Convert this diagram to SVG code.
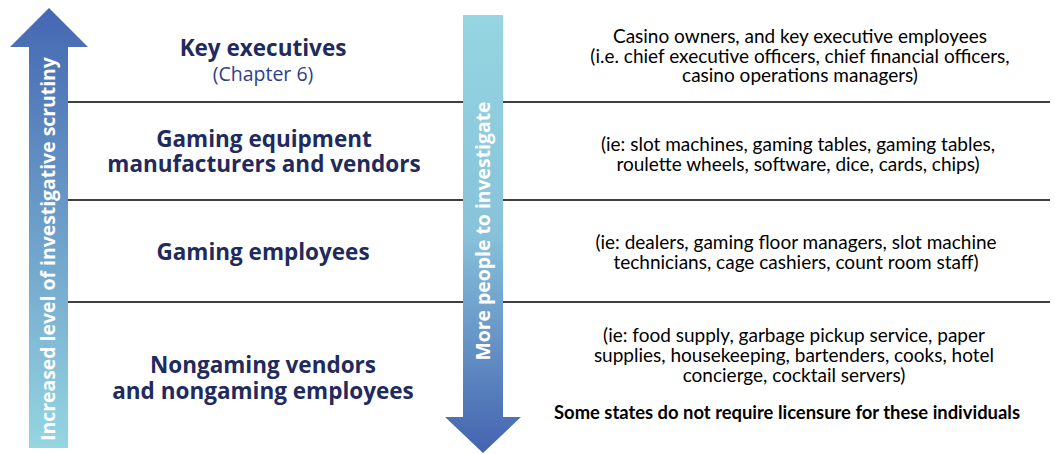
<svg xmlns="http://www.w3.org/2000/svg" width="1055" height="454" viewBox="0 0 1055 454">
<style>
.line{stroke:#000;stroke-width:1.5;fill:none}
.title{font-family:"Open Sans","Noto Sans",sans-serif;font-weight:bold;font-size:22.5px;fill:#1f2a5e;text-anchor:middle}
.sub{font-family:"Open Sans","Noto Sans",sans-serif;font-size:19.5px;fill:#2e3f8a;text-anchor:middle}
.desc{font-family:Lato,"Liberation Sans",sans-serif;font-size:19px;fill:#000;text-anchor:middle}
.note{font-family:Lato,"Liberation Sans",sans-serif;font-weight:bold;font-size:18.4px;fill:#000;text-anchor:middle}
.vert{font-family:"Open Sans","Noto Sans",sans-serif;font-weight:bold;font-size:19.4px;fill:#fff;text-anchor:middle}
</style>
<defs>
<linearGradient id="gUp" x1="0" y1="0" x2="0" y2="1">
<stop offset="0" stop-color="#4467b2"/>
<stop offset="1" stop-color="#95d6e1"/>
</linearGradient>
<linearGradient id="gDown" x1="0" y1="0" x2="0" y2="1">
<stop offset="0" stop-color="#95d6e1"/>
<stop offset="0.5" stop-color="#87c2da"/>
<stop offset="1" stop-color="#4463b0"/>
</linearGradient>
</defs>
<g id="connectors">
<line class="line" x1="68" y1="102" x2="463" y2="102"/>
<line class="line" x1="503" y1="102" x2="1050" y2="102"/>
<line class="line" x1="68" y1="200" x2="463" y2="200"/>
<line class="line" x1="503" y1="200" x2="1050" y2="200"/>
<line class="line" x1="68" y1="302" x2="463" y2="302"/>
<line class="line" x1="503" y1="302" x2="1050" y2="302"/>
</g>
<g id="arrow-up">
<polygon points="49,8 88,47 68,47 68,448 29,448 29,47 10,47" fill="url(#gUp)"/>
<text class="vert" transform="translate(55,249) rotate(-90)">Increased level of investigative scrutiny</text>
</g>
<g id="arrow-down">
<polygon points="463,15 503,15 503,417 521,417 483,453 445,417 463,417" fill="url(#gDown)"/>
<text class="vert" transform="translate(490,231) rotate(-90)">More people to investigate</text>
</g>
<g id="key-executives">
<text class="title" x="263" y="56">Key executives</text>
<text class="sub" x="263" y="81">(Chapter 6)</text>
<text class="desc" x="800" y="43">Casino owners, and key executive employees</text>
<text class="desc" x="800" y="63">(i.e. chief executive officers, chief financial officers,</text>
<text class="desc" x="800" y="82">casino operations managers)</text>
</g>
<g id="gaming-equipment">
<text class="title" x="264" y="147">Gaming equipment</text>
<text class="title" x="264" y="172">manufacturers and vendors</text>
<text class="desc" x="798" y="151">(ie: slot machines, gaming tables, gaming tables,</text>
<text class="desc" x="798" y="171">roulette wheels, software, dice, cards, chips)</text>
</g>
<g id="gaming-employees">
<text class="title" x="263" y="260">Gaming employees</text>
<text class="desc" x="796" y="249">(ie: dealers, gaming floor managers, slot machine</text>
<text class="desc" x="796" y="269">technicians, cage cashiers, count room staff)</text>
</g>
<g id="nongaming">
<text class="title" x="263" y="373">Nongaming vendors</text>
<text class="title" x="263" y="399">and nongaming employees</text>
<text class="desc" x="794" y="342">(ie: food supply, garbage pickup service, paper</text>
<text class="desc" x="794" y="362">supplies, housekeeping, bartenders, cooks, hotel</text>
<text class="desc" x="794" y="382">concierge, cocktail servers)</text>
<text class="note" x="787" y="419">Some states do not require licensure for these individuals</text>
</g>
</svg>
